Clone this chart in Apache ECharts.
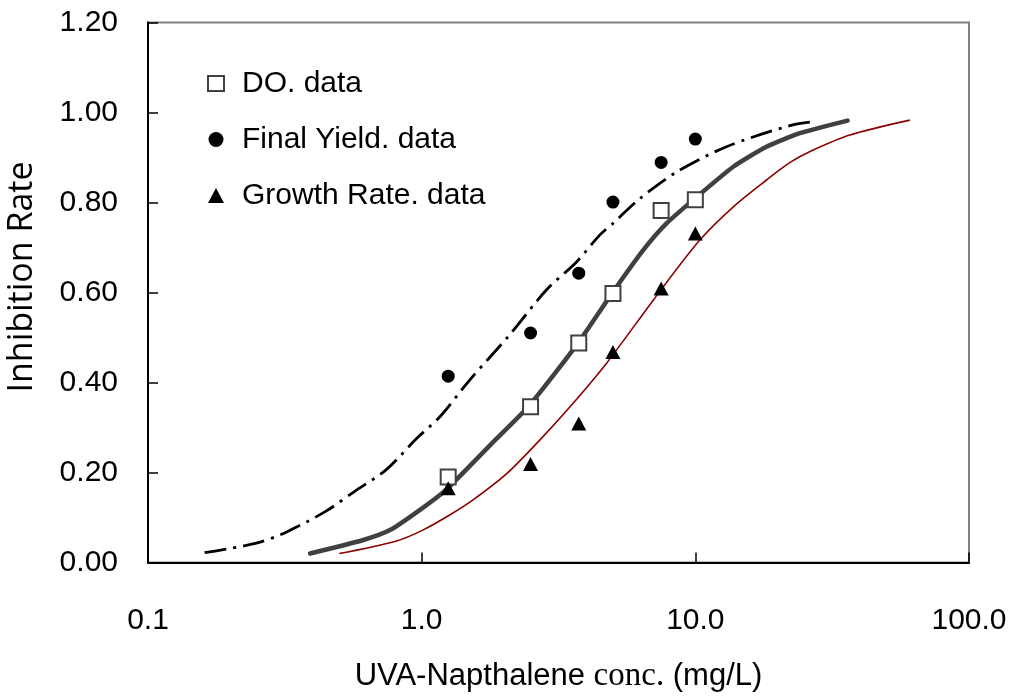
<!DOCTYPE html>
<html>
<head>
<meta charset="utf-8">
<script src="https://cdn.jsdelivr.net/npm/echarts@6/dist/echarts.min.js"></script>
<style>html,body{margin:0;padding:0;background:#fff;}#chart{width:1009px;height:696px;}</style>
</head>
<body>
<div id="chart"></div>
<script>
// Measured data points
const dataConc = [1.25, 2.5, 3.75, 5, 7.5, 10];
const doData = [0.19, 0.346, 0.488, 0.598, 0.782, 0.806];
const yieldData = [0.414, 0.510, 0.643, 0.801, 0.889, 0.941];
const growthData = [0.165, 0.219, 0.309, 0.468, 0.609, 0.731];

// Fitted curves
const yieldFitConc = [0.161, 0.249, 0.321, 0.444, 0.578, 0.745, 0.96, 1.166, 1.50, 2.07, 2.86, 3.68, 4.48, 5.01, 6.28, 8.55, 13.0, 22.5, 27.8];
const yieldFitVal  = [0.022, 0.043, 0.068, 0.113, 0.161, 0.207, 0.276, 0.324, 0.406, 0.502, 0.606, 0.668, 0.728, 0.754, 0.809, 0.868, 0.924, 0.972, 0.980];

const doFitConc = [0.391, 0.612, 0.766, 0.986, 1.23, 1.78, 2.45, 3.72, 4.96, 6.45, 7.86, 9.88, 13.8, 18.2, 24.1, 36];
const doFitVal  = [0.020, 0.050, 0.072, 0.117, 0.162, 0.261, 0.346, 0.487, 0.598, 0.694, 0.754, 0.807, 0.880, 0.924, 0.954, 0.982];

const growthFitConc = [0.50, 0.81, 1.01, 1.27, 1.54, 2.05, 2.70, 3.53, 4.74, 7.02, 10.4, 13.8, 18.2, 22.2, 26.6, 36.7, 60.8];
const growthFitVal  = [0.020, 0.048, 0.072, 0.106, 0.139, 0.198, 0.272, 0.350, 0.443, 0.583, 0.717, 0.791, 0.850, 0.889, 0.915, 0.950, 0.983];

const xTicks = [0.1, 1, 10, 100];
const yTickLabels = ['0.00', '0.20', '0.40', '0.60', '0.80', '1.00', '1.20'];

const zip = (xs, ys) => xs.map((x, i) => [x, ys[i]]);

const chart = echarts.init(document.getElementById('chart'));
const sans = 'Liberation Sans';
chart.setOption({
  animation: false,
  backgroundColor: '#fff',
  grid: {
    left: 148, right: 40, top: 22.5, bottom: 133.5,
    containLabel: false, outerBoundsMode: 'none',
    show: true, borderColor: '#7f7f7f', borderWidth: 2, backgroundColor: 'transparent'
  },
  legend: {
    orient: 'vertical',
    left: 202, top: 63,
    itemGap: 25,
    itemWidth: 16, itemHeight: 15,
    textStyle: { fontFamily: sans, fontSize: 30, color: '#000', lineHeight: 31, padding: [0, 0, 0, 13] },
    data: [
      { name: 'DO. data', icon: 'rect', itemStyle: { color: '#fff', borderColor: '#404040', borderWidth: 2 } },
      { name: 'Final Yield. data', icon: 'circle', itemStyle: { color: '#000' } },
      { name: 'Growth Rate. data', icon: 'triangle', itemStyle: { color: '#000' } }
    ]
  },
  xAxis: {
    type: 'log', logBase: 10, min: xTicks[0], max: xTicks[xTicks.length - 1],
    name: '{a|UVA-Napthalene }{b|conc.}{a| (mg/L)}',
    nameLocation: 'middle', nameGap: 97,
    nameTextStyle: {
      rich: {
        a: { fontFamily: sans, fontSize: 31, color: '#000' },
        b: { fontFamily: 'Liberation Serif', fontSize: 33, color: '#000' }
      }
    },
    axisLine: { onZero: false, lineStyle: { color: '#000', width: 2 } },
    axisTick: { inside: true, length: 10, lineStyle: { color: '#000', width: 1.5 } },
    minorTick: { show: false },
    splitLine: { show: false },
    axisLabel: {
      margin: 43, fontFamily: sans, fontSize: 30, color: '#000',
      formatter: v => Number(v).toFixed(1)
    }
  },
  yAxis: {
    type: 'value', min: 0, max: 1.2, interval: 0.2,
    name: 'Inhibition Rate',
    nameLocation: 'middle', nameGap: 109,
    nameTextStyle: { fontFamily: 'Open Sans', fontSize: 34, color: '#000', padding: [0, 0, 0, 31] },
    axisLine: { lineStyle: { color: '#000', width: 2 } },
    axisTick: { inside: true, length: 10, lineStyle: { color: '#000', width: 1.5 } },
    splitLine: { show: false },
    axisLabel: {
      margin: 30, fontFamily: sans, fontSize: 30, color: '#000',
      formatter: v => yTickLabels[Math.round(v / 0.2)]
    }
  },
  series: [
    {
      name: 'Final Yield fit', type: 'line', data: zip(yieldFitConc, yieldFitVal),
      showSymbol: false, silent: true, smooth: 0.3, z: 2,
      lineStyle: { color: '#000', width: 2.8, type: [22, 7, 3, 7] }
    },
    {
      name: 'DO fit', type: 'line', data: zip(doFitConc, doFitVal),
      showSymbol: false, silent: true, smooth: 0.2, z: 2,
      lineStyle: { color: '#404040', width: 4.5, cap: 'round' }
    },
    {
      name: 'Growth Rate fit', type: 'line', data: zip(growthFitConc, growthFitVal),
      showSymbol: false, silent: true, smooth: 0.3, z: 2,
      lineStyle: { color: '#8B0000', width: 1.6 }
    },
    {
      name: 'DO. data', type: 'scatter', data: zip(dataConc, doData),
      symbol: 'rect', symbolSize: 15, z: 5,
      itemStyle: { color: '#fff', borderColor: '#404040', borderWidth: 2, opacity: 1 }
    },
    {
      name: 'Final Yield. data', type: 'scatter', data: zip(dataConc, yieldData),
      symbol: 'circle', symbolSize: 13, z: 5,
      itemStyle: { color: '#000', opacity: 1 }
    },
    {
      name: 'Growth Rate. data', type: 'scatter', data: zip(dataConc, growthData),
      symbol: 'triangle', symbolSize: [15, 14], z: 5,
      itemStyle: { color: '#000', opacity: 1 }
    }
  ]
});
</script>
</body>
</html>
